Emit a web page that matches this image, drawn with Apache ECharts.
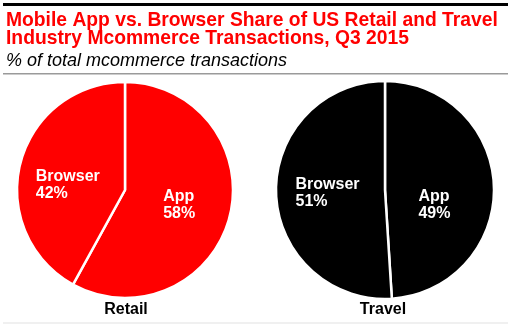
<!DOCTYPE html>
<html>
<head>
<meta charset="utf-8">
<script src="https://cdn.jsdelivr.net/npm/echarts@6/dist/echarts.min.js"></script>
<style>
html,body{margin:0;padding:0;background:#fff;}
#chart{width:512px;height:325px;}
</style>
</head>
<body>
<div id="chart"></div>
<script>
// Data
const titleLines = ['Mobile App vs. Browser Share of US Retail and Travel', 'Industry Mcommerce Transactions, Q3 2015'];
const subtitle = '% of total mcommerce transactions';
const segments = ['App', 'Browser'];
const retailValues = [58, 42];
const travelValues = [49, 51];
const pieNames = ['Retail', 'Travel'];

const chart = echarts.init(document.getElementById('chart'), null, {renderer: 'canvas'});
const FONT = '"Liberation Sans", Arial, sans-serif';

function labelStyle(dx, dy, w) {
  return {
    show: true,
    position: 'inside',
    offset: [dx, dy],
    formatter: function (p) { return '{t|' + p.name + '}\n{t|' + p.value + '%}'; },
    rich: {
      t: {
        width: w,
        align: 'left',
        color: '#fff',
        fontFamily: FONT,
        fontWeight: 'bold',
        fontSize: 16,
        lineHeight: 17
      }
    }
  };
}

function pieSeries(values, center, radius, color, offsets, widths) {
  return {
    type: 'pie',
    center: center,
    radius: radius,
    startAngle: 90,
    clockwise: true,
    silent: true,
    animation: false,
    itemStyle: {color: color, borderColor: '#fff', borderWidth: 2.5},
    labelLine: {show: false},
    data: segments.map(function (s, i) {
      return {name: s, value: values[i], label: labelStyle(offsets[i][0], offsets[i][1], widths[i])};
    })
  };
}

chart.setOption({
  animation: false,
  graphic: [
    {type: 'rect', shape: {x: 3, y: 3, width: 505, height: 3}, style: {fill: '#000'}},
    {type: 'text', x: 6, y: 11.5, style: {text: titleLines[0], font: 'bold 19.3px ' + FONT, fill: '#ff0000', textVerticalAlign: 'top'}},
    {type: 'text', x: 6, y: 29.5, style: {text: titleLines[1], font: 'bold 19.3px ' + FONT, fill: '#ff0000', textVerticalAlign: 'top'}},
    {type: 'text', x: 6, y: 52, style: {text: subtitle, font: 'italic 18px ' + FONT, fill: '#000', textVerticalAlign: 'top'}},
    {type: 'rect', shape: {x: 3, y: 73, width: 505, height: 1.5}, style: {fill: '#9a9a9a'}},
    {type: 'text', x: 126, y: 301.5, style: {text: pieNames[0], font: 'bold 16px ' + FONT, fill: '#000', textAlign: 'center', textVerticalAlign: 'top'}},
    {type: 'text', x: 383, y: 301.5, style: {text: pieNames[1], font: 'bold 16px ' + FONT, fill: '#000', textAlign: 'center', textVerticalAlign: 'top'}},
    {type: 'rect', shape: {x: 3, y: 322.5, width: 505, height: 1}, style: {fill: '#e2e2e2'}}
  ],
  series: [
    pieSeries(retailValues, [125, 190], 108, '#ff0000', [[-1.5, 1], [-2, 9]], [31, 64]),
    pieSeries(travelValues, [385, 190], 109, '#000000', [[-8.5, 17], [0, 1]], [31, 64])
  ]
});
</script>
</body>
</html>
